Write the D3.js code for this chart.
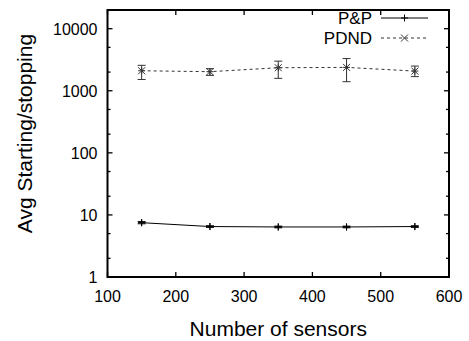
<!DOCTYPE html>
<html>
<head>
<meta charset="utf-8">
<script src="https://cdn.jsdelivr.net/npm/d3@7"></script>
<style>
  body { margin: 0; background: #fff; }
  svg { display: block; font-family: "Liberation Sans", Arial, sans-serif; }
</style>
</head>
<body>
<div id="chart"></div>
<script>
// data
const sensors = [150, 250, 350, 450, 550];
const pnpMean = [7.5, 6.5, 6.4, 6.4, 6.5];
const pnpLow = [7.2, 6.3, 6.2, 6.2, 6.3];
const pnpHigh = [7.8, 6.7, 6.6, 6.6, 6.7];
const pdndMean = [2100, 2030, 2350, 2380, 2075];
const pdndLow = [1520, 1770, 1585, 1400, 1690];
const pdndHigh = [2570, 2270, 3000, 3300, 2500];
const xTicks = [100, 200, 300, 400, 500, 600];
const yTicks = [1, 10, 100, 1000, 10000];
const yMinor = [2, 5, 20, 50, 200, 500, 2000, 5000];

const width = 469, height = 341;
const m = {left: 107.5, right: 20, top: 10, bottom: 64};

const svg = d3.select("#chart").append("svg")
	.attr("width", width)
	.attr("height", height);

const x = d3.scaleLinear().domain([100, 600]).range([m.left, width - m.right]);
const y = d3.scaleLog().domain([1, 20000]).range([height - m.bottom, m.top]);

const x0 = x.range()[0], x1 = x.range()[1];
const y0 = y.range()[0], y1 = y.range()[1];

// ticks: inward, mirrored on every side
const tickG = svg.append("g").attr("stroke", "#000").attr("stroke-width", 1.3);
xTicks.forEach(t => {
	tickG.append("line").attr("x1", x(t)).attr("x2", x(t)).attr("y1", y0).attr("y2", y0 - 5);
	tickG.append("line").attr("x1", x(t)).attr("x2", x(t)).attr("y1", y1).attr("y2", y1 + 5);
});
yTicks.forEach(t => {
	tickG.append("line").attr("x1", x0).attr("x2", x0 + 5).attr("y1", y(t)).attr("y2", y(t));
	tickG.append("line").attr("x1", x1).attr("x2", x1 - 5).attr("y1", y(t)).attr("y2", y(t));
});
yMinor.forEach(t => {
	tickG.append("line").attr("x1", x0).attr("x2", x0 + 3).attr("y1", y(t)).attr("y2", y(t));
	tickG.append("line").attr("x1", x1).attr("x2", x1 - 3).attr("y1", y(t)).attr("y2", y(t));
});

svg.append("rect")
	.attr("x", x0).attr("y", y1)
	.attr("width", x1 - x0).attr("height", y0 - y1)
	.attr("fill", "none").attr("stroke", "#000").attr("stroke-width", 2);

// tick labels
svg.append("g")
	.style("font-size", "16px")
	.selectAll("text")
	.data(xTicks)
	.join("text")
	.attr("x", d => x(d))
	.attr("y", y0 + 25)
	.attr("text-anchor", "middle")
	.text(d => d);

svg.append("g")
	.style("font-size", "16px")
	.selectAll("text")
	.data(yTicks)
	.join("text")
	.attr("x", x0 - 10)
	.attr("y", d => y(d) + 6)
	.attr("text-anchor", "end")
	.text(d => d);

// axis titles
svg.append("text")
	.attr("x", (x0 + x1) / 2)
	.attr("y", 336)
	.attr("text-anchor", "middle")
	.style("font-size", "21px")
	.text("Number of sensors");

svg.append("text")
	.attr("transform", `translate(32,${(y0 + y1) / 2 - 10}) rotate(-90)`)
	.attr("text-anchor", "middle")
	.style("font-size", "21px")
	.text("Avg Starting/stopping");

// series
const series = [
	{name: "P&P", mean: pnpMean, low: pnpLow, high: pnpHigh, dash: null, color: "#000", mark: "plus"},
	{name: "PDND", mean: pdndMean, low: pdndLow, high: pdndHigh, dash: "3,3", color: "#333", mark: "cross"}
];

const line = d3.line().x(d => x(d[0])).y(d => y(d[1]));

function marker(g, cx, cy, kind, color) {
	const s = 3.5;
	if (kind === "plus") {
		g.append("line").attr("x1", cx - s).attr("x2", cx + s).attr("y1", cy).attr("y2", cy).attr("stroke", color);
		g.append("line").attr("x1", cx).attr("x2", cx).attr("y1", cy - s).attr("y2", cy + s).attr("stroke", color);
	} else {
		g.append("line").attr("x1", cx - s).attr("x2", cx + s).attr("y1", cy - s).attr("y2", cy + s).attr("stroke", color);
		g.append("line").attr("x1", cx - s).attr("x2", cx + s).attr("y1", cy + s).attr("y2", cy - s).attr("stroke", color);
	}
}

series.forEach(s => {
	const pts = sensors.map((v, i) => [v, s.mean[i]]);
	svg.append("path")
		.attr("d", line(pts))
		.attr("fill", "none")
		.attr("stroke", s.color)
		.attr("stroke-width", 1)
		.attr("stroke-dasharray", s.dash);

	const g = svg.append("g").attr("stroke-width", 1);
	sensors.forEach((v, i) => {
		const cx = x(v);
		g.append("line").attr("x1", cx).attr("x2", cx)
			.attr("y1", y(s.low[i])).attr("y2", y(s.high[i])).attr("stroke", s.color);
		[s.low[i], s.high[i]].forEach(e => {
			g.append("line").attr("x1", cx - 4).attr("x2", cx + 4)
				.attr("y1", y(e)).attr("y2", y(e)).attr("stroke", s.color);
		});
		marker(g, cx, y(s.mean[i]), s.mark, s.color);
		marker(g, cx, y(s.mean[i]), "plus", s.color);
	});
});

// legend
const leg = svg.append("g");
series.forEach((s, i) => {
	const ly = 18 + i * 20;
	leg.append("text")
		.attr("x", 372).attr("y", ly + 6)
		.attr("text-anchor", "end")
		.style("font-size", "17px")
		.text(s.name);
	leg.append("line")
		.attr("x1", 381).attr("x2", 428)
		.attr("y1", ly).attr("y2", ly)
		.attr("stroke", s.color)
		.attr("stroke-dasharray", s.dash);
	marker(leg, 404.5, ly, s.mark, s.color);
});
</script>
</body>
</html>
